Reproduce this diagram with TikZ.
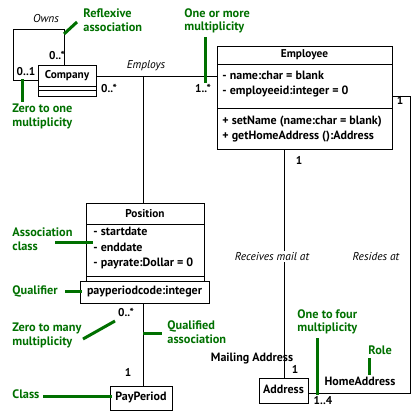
\documentclass[tikz,border=0pt]{standalone}
\usepackage{fontspec}
\setmainfont{PT Sans}
\definecolor{lblgreen}{RGB}{0,112,0}
\begin{document}
\begin{tikzpicture}[x=1pt,y=-1pt,
  line width=0.9pt,
  box/.style={draw, line width=0.9pt, inner sep=0pt, anchor=north west},
  txt/.style={inner sep=0pt, anchor=mid, font=\fontsize{11.3}{12}\selectfont\bfseries},
  btxt/.style={txt, font=\fontsize{12}{12}\selectfont\bfseries},
  ltxt/.style={btxt, anchor=mid west},
  cname/.style={txt, font=\fontsize{11.3}{12}\selectfont\bfseries},
  itxt/.style={txt, font=\fontsize{11.4}{12}\selectfont\itshape},
  note/.style={inner sep=0pt, anchor=west, align=left, text=lblgreen,
     font=\fontsize{12.3}{13.5}\selectfont\bfseries},
  lead/.style={draw=lblgreen, line width=3pt},
  conn/.style={draw, line width=0.9pt}]
\useasboundingbox (0,0) rectangle (420,420);

% ---------- class boxes ----------
\node[box, minimum width=58pt, minimum height=31pt] (comp) at (38,65) {};
\node[cname] (compname) at (67,75.5) {Company};
\draw (comp.west |- 0,86) -- (comp.east |- 0,86);
\draw (comp.west |- 0,90) -- (comp.east |- 0,90);

\node[box, minimum width=175pt, minimum height=103pt] (emp) at (217,46) {};
\node[cname] (empname) at (304.5,55) {Employee};
\draw (emp.west |- 0,64) -- (emp.east |- 0,64);
\node[ltxt] (ea1) at (222,77) {- name:char = blank};
\node[ltxt] (ea2) at (222,92) {- employeeid:integer = 0};
\draw (emp.west |- 0,108) -- (emp.east |- 0,108);
\node[ltxt] (eo1) at (222,122) {+ setName (name:char = blank)};
\node[ltxt] (eo2) at (222,137) {+ getHomeAddress ():Address};

\node[box, minimum width=118pt, minimum height=78pt] (pos) at (86,203) {};
\node[cname] (posname) at (145,215) {Position};
\draw (pos.west |- 0,224) -- (pos.east |- 0,224);
\node[ltxt] (pa1) at (93,233) {- startdate};
\node[ltxt] (pa2) at (93,249) {- enddate};
\node[ltxt] (pa3) at (93,264) {- payrate:Dollar = 0};
\draw (pos.west |- 0,276) -- (pos.east |- 0,276);

\node[box, minimum width=129pt, minimum height=22pt] (qual) at (80,281) {};
\node[btxt] (qualtxt) at (144.5,291.5) {payperiodcode:integer};

\node[box, minimum width=62pt, minimum height=24pt] (pp) at (110,386) {};
\node[btxt] (pptxt) at (141,398) {PayPeriod};

\node[box, minimum width=49pt, minimum height=25pt] (addr) at (259,378) {};
\node[btxt] (addrtxt) at (283.5,390.5) {Address};

% ---------- connectors ----------
\coordinate (j) at (143,76);
\coordinate (r1) at (410,96);
\coordinate (r2) at (410,393);
\coordinate (o1) at (64,29);
\coordinate (o2) at (13,80);

\draw[conn] (comp.east |- j) -- (emp.west |- j);
\draw[conn] (j) -- (pos.north -| j);
\draw[conn] (qual.south -| j) -- (pp.north -| j);
\draw[conn] (comp.north -| o1) -- (o1) -- (o1 -| o2) -- (o2) -- (comp.west |- o2);
\draw[conn] (emp.east |- r1) -- (r1) -- (r2) -- (addr.east |- r2);
\draw[conn] (emp.south -| addr.north) -- (addr.north);

% ---------- association labels ----------
\node[itxt] (owns) at (46,20) {Owns};
\node[txt] (m1) at (57,57) {0..*};
\node[txt] (m2) at (26,73) {0..1};
\node[txt] (m3) at (109,90) {0..*};
\node[itxt] (employs) at (146,66) {Employs};
\node[txt] (m4) at (203,90) {1..*};
\node[txt] (m5) at (400,102) {1};
\node[txt] (m6) at (299,162) {1};
\node[itxt, fill=white, inner sep=1pt] (recv) at (272,258) {Receives mail at};
\node[itxt] (resides) at (376,258) {Resides at};
\node[btxt] (mail) at (252,359) {Mailing Address};
\node[txt] (m7) at (295,371) {1};
\node[btxt] (home) at (360,383) {HomeAddress};
\node[txt] (m8) at (323,402) {1..4};
\node[txt] (m9) at (126,314) {0..*};
\node[txt] (m10) at (128,374) {1};

% ---------- green annotations ----------
\node[note] (nrefl) at (83,20) {Reflexive\\association};
\draw[lead] (64,34) -- (77,22);
\node[note] (nonemore) at (184,21) {One or more\\multiplicity};
\draw[lead] (205,37) -- (205,83);
\node[note] (nzeroone) at (12,116.5) {Zero to one\\multiplicity};
\draw[lead] (22,79) -- (22,102);
\node[note] (nassoc) at (12,239) {Association\\class};
\draw[lead] (55,242) -- (93,242);
\node[note] (nqual) at (12,291) {Qualifier};
\draw[lead] (65,291) -- (82,291);
\node[note] (nzeromany) at (12,335.5) {Zero to many\\multiplicity};
\draw[lead] (83,339) -- (115,321);
\node[note] (nqassoc) at (167,332) {Qualified\\association};
\draw[lead] (143,333) -- (162,333);
\node[note] (nclass) at (12,394) {Class};
\draw[lead] (43,396) -- (112,396);
\node[note] (nfour) at (297,322) {One to four\\multiplicity};
\draw[lead] (317,338) -- (317,395);
\node[note] (nrole) at (368,350) {Role};
\draw[lead] (369,358) -- (369,375);
\end{tikzpicture}
\end{document}
